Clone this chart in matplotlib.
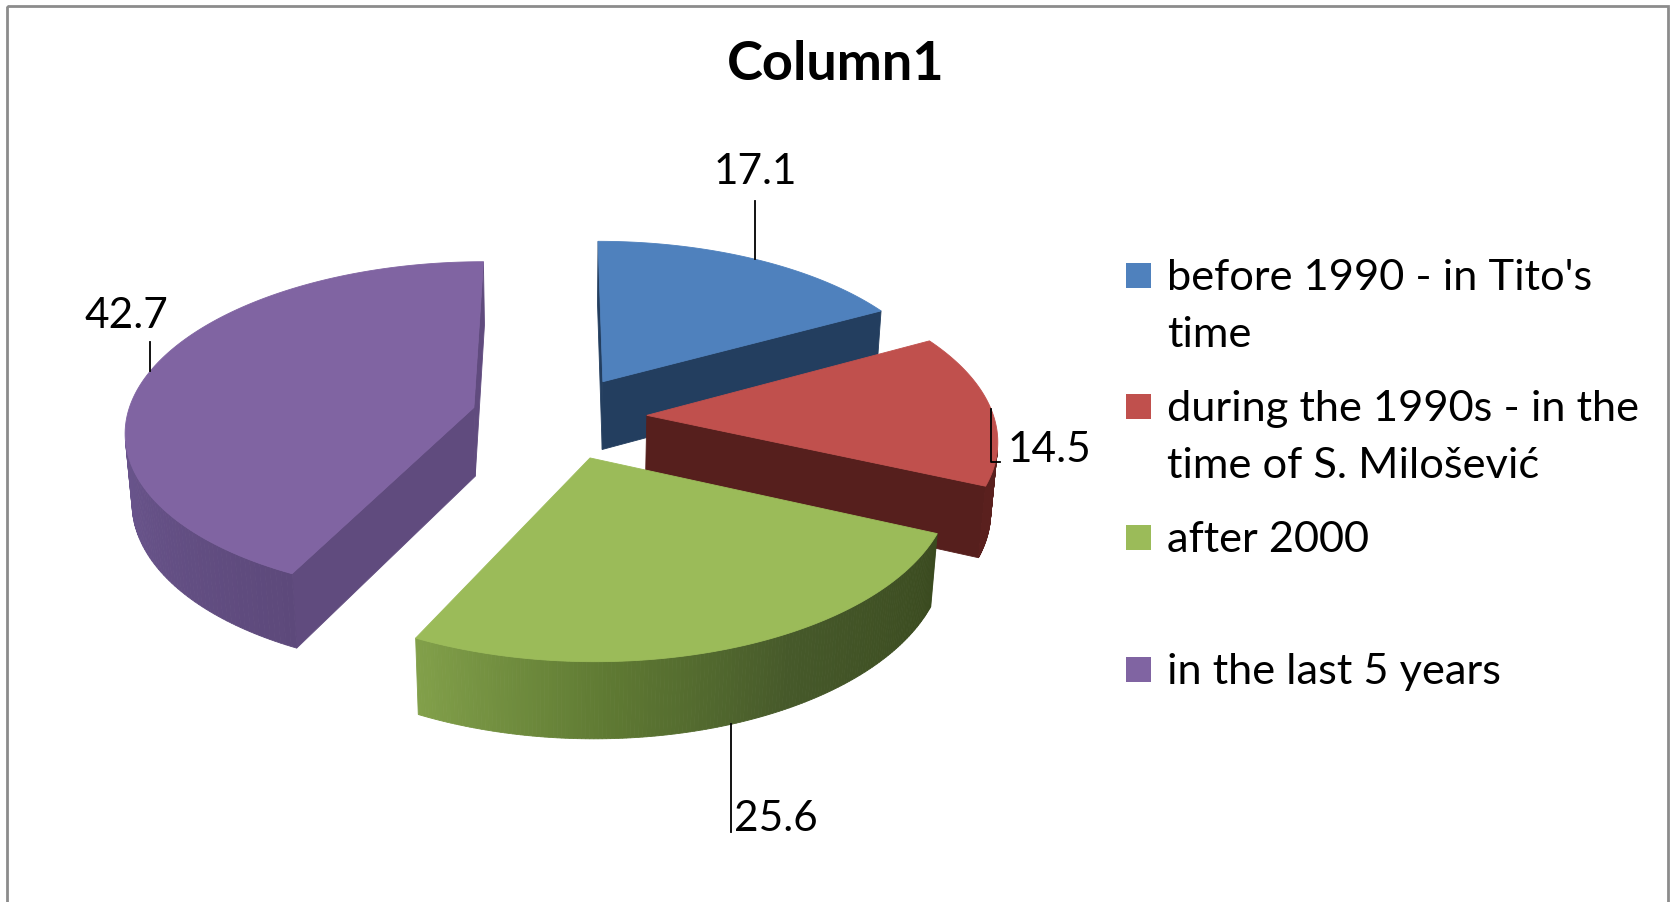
import numpy as np
import matplotlib
matplotlib.use("Agg")
import matplotlib.pyplot as plt
from matplotlib.patches import Polygon, Rectangle
from matplotlib.colors import LinearSegmentedColormap

# ---------------- data ----------------
title = "Column1"
categories = ["before 1990 - in Tito's\ntime",
              "during the 1990s - in the\ntime of S. Milošević",
              "after 2000",
              "in the last 5 years"]
values = [17.1, 14.5, 25.6, 42.7]
value_labels = ["17.1", "14.5", "25.6", "42.7"]

# ---------------- style ----------------
top_colors = ["#4F81BD", "#C0504D", "#9BBB59", "#8064A2"]
radial_colors = ["#233E5F", "#561F1D", "#4F6228", "#604B7E"]
outer_stops = [
    [(0.0, "#233E5F"), (1.0, "#233E5F")],
    [(0.0, "#5A201E"), (1.0, "#5A201E")],
    [(0.0, "#82A04A"), (0.3, "#5F7A33"), (0.6, "#46592A"), (1.0, "#3A4A1F")],
    [(0.0, "#6E5A92"), (0.6, "#6C5790"), (1.0, "#5D497B")],
]
FONT = "Lato"

W, H = 1671, 902
fig = plt.figure(figsize=(W / 100, H / 100), dpi=100)
ax = fig.add_axes([0, 0, 1, 1])
ax.set_xlim(0, W)
ax.set_ylim(H, 0)
ax.axis("off")

# chart border
ax.add_patch(Rectangle((7, 6), 1661, 920, fill=False, edgecolor="#8C8C8C", lw=2))

# ---------------- 3D projection ----------------
CX, CY = 559, 417
R = 347
HGT = 80
EXPL = 88
SIN_A = 0.48
COS_A = np.sqrt(1 - SIN_A ** 2)
DIST = 2400.0
CAM = np.array([0.0, -DIST * COS_A, DIST * SIN_A])


def proj(X, Y, Z):
    X, Y, Z = np.asarray(X, float), np.asarray(Y, float), np.asarray(Z, float)
    d = DIST + Y * COS_A - Z * SIN_A
    s = DIST / d
    return CX + X * s, CY - (Y * SIN_A + Z * COS_A) * s


def depth(P):
    return DIST + P[1] * COS_A - P[2] * SIN_A


def visible(normal, P):
    return np.dot(normal, CAM - np.asarray(P)) > 0


total = sum(values)
fracs = [v / total for v in values]
slices = []
cum = 0.0
for i, f in enumerate(fracs):
    th_hi = 90 - 360 * cum
    th_lo = th_hi - 360 * f
    cum += f
    mid = np.radians((th_hi + th_lo) / 2)
    ox, oy = EXPL * np.cos(mid), EXPL * np.sin(mid)
    slices.append(dict(i=i, lo=np.radians(th_lo), hi=np.radians(th_hi), mid=mid, ox=ox, oy=oy))

order = sorted(slices, key=lambda s: -(depth((s["ox"] + 0.5 * R * np.cos(s["mid"]),
                                              s["oy"] + 0.5 * R * np.sin(s["mid"]), 0))))

anchors = {}
for s in order:
    i = s["i"]
    ox, oy = s["ox"], s["oy"]
    th = np.linspace(s["lo"], s["hi"], 160)
    ax_x = ox + R * np.cos(th)
    ax_y = oy + R * np.sin(th)
    faces = []
    # outer wall quads
    cmap = LinearSegmentedColormap.from_list("o%d" % i, outer_stops[i])
    for k in range(len(th) - 1):
        tm = 0.5 * (th[k] + th[k + 1])
        Pm = (ox + R * np.cos(tm), oy + R * np.sin(tm), -HGT / 2)
        n = np.array([np.cos(tm), np.sin(tm), 0])
        if visible(n, Pm):
            X = [ax_x[k], ax_x[k + 1], ax_x[k + 1], ax_x[k]]
            Y = [ax_y[k], ax_y[k + 1], ax_y[k + 1], ax_y[k]]
            Z = [0, 0, -HGT, -HGT]
            t = (tm - s["lo"]) / (s["hi"] - s["lo"])
            faces.append((depth(Pm), X, Y, Z, cmap(t)))
    # radial walls
    for ang, n in ((s["lo"], np.array([np.sin(s["lo"]), -np.cos(s["lo"]), 0])),
                   (s["hi"], np.array([-np.sin(s["hi"]), np.cos(s["hi"]), 0]))):
        ex, ey = ox + R * np.cos(ang), oy + R * np.sin(ang)
        Pm = ((ox + ex) / 2, (oy + ey) / 2, -HGT / 2)
        if visible(n, Pm):
            X = [ox, ex, ex, ox]
            Y = [oy, ey, ey, oy]
            Z = [0, 0, -HGT, -HGT]
            faces.append((depth(Pm), X, Y, Z, radial_colors[i]))
    faces.sort(key=lambda f: -f[0])
    for _, X, Y, Z, c in faces:
        u, v = proj(X, Y, Z)
        ax.add_patch(Polygon(np.column_stack([u, v]), closed=True, facecolor=c,
                             edgecolor=c, lw=0.6, antialiased=True))
    # top face
    X = np.concatenate([[ox], ax_x])
    Y = np.concatenate([[oy], ax_y])
    u, v = proj(X, Y, np.zeros_like(X))
    ax.add_patch(Polygon(np.column_stack([u, v]), closed=True, facecolor=top_colors[i],
                         edgecolor=top_colors[i], lw=0.6))
    # anchors for labels
    m = s["mid"]
    zt = -HGT if np.sin(m) < -0.5 else 0
    au, av = proj(ox + R * np.cos(m), oy + R * np.sin(m), zt)
    anchors[i] = (float(au), float(av))

# ---------------- data labels ----------------
lab_fs = 30.5
lc = "black"
for i, txt in enumerate(value_labels):
    axp, ayp = anchors[i]
    if i == 0:      # above, vertical leader
        ax.plot([axp, axp], [ayp, ayp - 58], color=lc, lw=1.3)
        ax.text(axp, ayp - 75, txt, ha="center", va="baseline", fontsize=lab_fs, family=FONT)
    elif i == 1:    # right, L-shaped leader
        ax.plot([axp, axp, axp + 9], [ayp, ayp + 53, ayp + 53], color=lc, lw=1.3)
        ax.text(axp + 17, ayp + 53, txt, ha="left", va="baseline", fontsize=lab_fs, family=FONT)
    elif i == 2:    # below
        ax.plot([axp, axp], [ayp, ayp + 108], color=lc, lw=1.3)
        ax.text(axp + 3, ayp + 107, txt, ha="left", va="baseline", fontsize=lab_fs, family=FONT)
    else:           # upper left
        ax.plot([axp, axp], [ayp, ayp - 29], color=lc, lw=1.3)
        ax.text(axp + 18, ayp - 43, txt, ha="right", va="baseline", fontsize=lab_fs, family=FONT)

# ---------------- title ----------------
ax.text(836, 80, title, ha="center", va="baseline", fontsize=39, fontweight="bold", family=FONT)

# ---------------- legend ----------------
leg_x = 1126
box = 25
entry_y = [290, 421, 552, 684]   # baseline of first line of each entry
line_gap = 57
for i, cat in enumerate(categories):
    y0 = entry_y[i]
    ax.add_patch(Rectangle((leg_x, y0 - 27), box, box, facecolor=top_colors[i], edgecolor="none"))
    for j, line in enumerate(cat.split("\n")):
        ax.text(leg_x + 41, y0 + j * line_gap, line, ha="left", va="baseline",
                fontsize=31.2, family=FONT)

fig.savefig("out.png", dpi=100)
